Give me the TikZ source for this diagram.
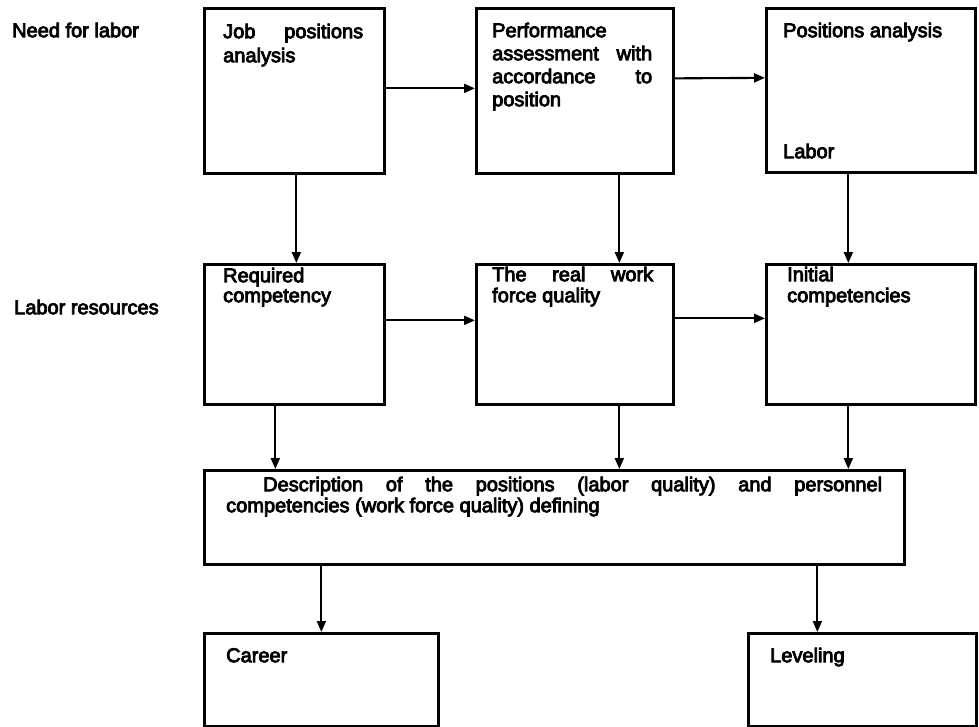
\documentclass[tikz,border=0pt]{standalone}
\usepackage{fontspec}
\setmainfont{Liberation Sans}
\newfontfamily\scanfont{Liberation Sans}[FakeBold=4]
\usetikzlibrary{arrows.meta}
\begin{document}
\begin{tikzpicture}[x=1pt,y=-1pt,
  box/.style={draw, line width=2.7pt, inner sep=0pt, anchor=north west},
  arr/.style={line width=2.1pt, -{Triangle[length=11pt,width=9pt]}},
  txt/.style={inner sep=0pt, anchor=north west, align=left,
    font=\scanfont\fontsize{20}{#1}\selectfont},
  txt/.default=23]
\useasboundingbox (0,0) rectangle (979,726);

% row labels
\node[txt] (need) at (12,22) {\rule{0pt}{15pt}Need for labor};
\node[txt] (res)  at (14,299) {\rule{0pt}{15pt}Labor resources};

% first row
\node[box, minimum width=180pt, minimum height=165pt] (b1) at (203,7) {};
\node[box, minimum width=197pt, minimum height=165pt] (b2) at (475,7) {};
\node[box, minimum width=209pt, minimum height=164pt] (b3) at (765,7) {};

% second row
\node[box, minimum width=180pt, minimum height=140pt] (b4) at (203,263) {};
\node[box, minimum width=197pt, minimum height=140pt] (b5) at (475,263) {};
\node[box, minimum width=209pt, minimum height=140pt] (b6) at (765,263) {};

% summary box and results
\node[box, minimum width=700pt, minimum height=94pt] (w) at (203,469) {};
\node[box, minimum width=234pt, minimum height=93pt] (c) at (203,632) {};
\node[box, minimum width=228pt, minimum height=93pt] (l) at (747,632) {};

% box texts
\node[txt=24] (t1) at (223,23) {\rule{0pt}{15pt}\makebox[140pt][s]{Job positions}\\analysis};
\node[txt=23] (t2) at (492,22) {\rule{0pt}{15pt}Performance\\\makebox[160pt][s]{assessment with}\\\makebox[160pt][s]{accordance to}\\position};
\node[txt] (t3) at (783,22) {\rule{0pt}{15pt}Positions analysis};
\node[txt] (t3b) at (783,143) {\rule{0pt}{15pt}Labor};
\node[txt=20] (t4) at (223,267) {\rule{0pt}{15pt}Required\\competency};
\node[txt=21] (t5) at (492,266) {\rule{0pt}{15pt}\makebox[161pt][s]{The real work}\\force quality};
\node[txt=21] (t6) at (787,266) {\rule{0pt}{15pt}Initial\\competencies};
\node[txt=21] (tw) at (226,476) {\rule{0pt}{15pt}\makebox[656pt][s]{\hspace{37pt}Description of the positions (labor quality) and personnel}\\competencies (work force quality) defining};
\node[txt] (tc) at (226,647) {\rule{0pt}{15pt}Career};
\node[txt] (tl) at (770,647) {\rule{0pt}{15pt}Leveling};

% horizontal connectors
\draw[arr] ([yshift=2.5pt]b1.east) -- ([yshift=2.5pt]b2.west);
\draw[arr] ([yshift=12.5pt]b2.east) -- ([yshift=12.5pt]b3.west);
\draw[arr] ([yshift=14pt]b4.east) -- ([yshift=14pt]b5.west);
\draw[arr] ([yshift=16pt]b5.east) -- ([yshift=16pt]b6.west);

% vertical connectors between the rows
\draw[arr] ([xshift=2pt]b1.south) -- ([xshift=2pt]b4.north);
\draw[arr] ([xshift=44.5pt]b2.south) -- ([xshift=44.5pt]b5.north);
\draw[arr] ([xshift=-22.5pt]b3.south) -- ([xshift=-22.5pt]b6.north);

% into the summary box
\coordinate (p4) at ([xshift=-19pt]b4.south);
\coordinate (p5) at ([xshift=44.5pt]b5.south);
\coordinate (p6) at ([xshift=-22.5pt]b6.south);
\draw[arr] (p4) -- (p4 |- w.north);
\draw[arr] (p5) -- (p5 |- w.north);
\draw[arr] (p6) -- (p6 |- w.north);

% out of the summary box
\coordinate (pc) at (c.north);
\coordinate (pl) at ([xshift=-45pt]l.north);
\draw[arr] (pc |- w.south) -- (pc);
\draw[arr] (pl |- w.south) -- (pl);
\end{tikzpicture}
\end{document}
